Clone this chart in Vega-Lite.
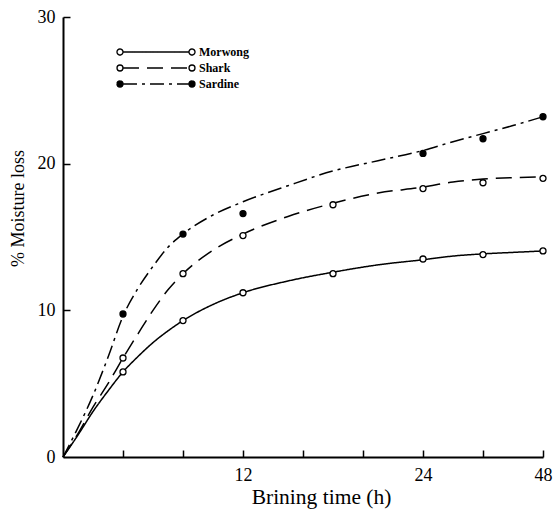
{
  "$schema": "https://vega.github.io/schema/vega-lite/v6.json",
  "width": 480,
  "height": 440,
  "autosize": "none",
  "padding": {"left": 63, "top": 17, "right": 14, "bottom": 58},
  "background": "white",
  "config": {
    "view": {"stroke": null},
    "font": "Liberation Serif",
    "axis": {
      "grid": false,
      "domainColor": "black",
      "domainWidth": 2,
      "tickColor": "black",
      "tickWidth": 1.5,
      "labelColor": "black",
      "labelFont": "Liberation Serif",
      "labelFontSize": 18,
      "titleColor": "black",
      "titleFont": "Liberation Serif",
      "titleFontWeight": "normal",
      "labelOverlap": false,
      "labelFlush": false
    }
  },
  "datasets": {
    "curves": [
      {"series": "Morwong", "h": 0, "v": 0},
      {"series": "Morwong", "h": 1, "v": 1.5},
      {"series": "Morwong", "h": 2, "v": 3.1},
      {"series": "Morwong", "h": 3, "v": 4.5},
      {"series": "Morwong", "h": 4, "v": 5.8},
      {"series": "Morwong", "h": 5, "v": 6.85},
      {"series": "Morwong", "h": 6, "v": 7.8},
      {"series": "Morwong", "h": 7, "v": 8.6},
      {"series": "Morwong", "h": 8, "v": 9.3},
      {"series": "Morwong", "h": 10, "v": 10.4},
      {"series": "Morwong", "h": 12, "v": 11.2},
      {"series": "Morwong", "h": 15, "v": 12.0},
      {"series": "Morwong", "h": 18, "v": 12.6},
      {"series": "Morwong", "h": 21, "v": 13.1},
      {"series": "Morwong", "h": 24, "v": 13.45},
      {"series": "Morwong", "h": 30, "v": 13.7},
      {"series": "Morwong", "h": 36, "v": 13.85},
      {"series": "Morwong", "h": 42, "v": 13.95},
      {"series": "Morwong", "h": 48, "v": 14.05},
      {"series": "Shark", "h": 0, "v": 0},
      {"series": "Shark", "h": 1, "v": 1.6},
      {"series": "Shark", "h": 2, "v": 3.4},
      {"series": "Shark", "h": 3, "v": 5.0},
      {"series": "Shark", "h": 4, "v": 6.75},
      {"series": "Shark", "h": 5, "v": 8.4},
      {"series": "Shark", "h": 6, "v": 10.0},
      {"series": "Shark", "h": 7, "v": 11.4},
      {"series": "Shark", "h": 8, "v": 12.5},
      {"series": "Shark", "h": 10, "v": 14.1},
      {"series": "Shark", "h": 12, "v": 15.2},
      {"series": "Shark", "h": 15, "v": 16.4},
      {"series": "Shark", "h": 18, "v": 17.3},
      {"series": "Shark", "h": 21, "v": 18.0},
      {"series": "Shark", "h": 24, "v": 18.4},
      {"series": "Shark", "h": 30, "v": 18.75},
      {"series": "Shark", "h": 36, "v": 18.95},
      {"series": "Shark", "h": 42, "v": 19.05},
      {"series": "Shark", "h": 48, "v": 19.1},
      {"series": "Sardine", "h": 0, "v": 0},
      {"series": "Sardine", "h": 1, "v": 2.0},
      {"series": "Sardine", "h": 2, "v": 4.2},
      {"series": "Sardine", "h": 3, "v": 6.8},
      {"series": "Sardine", "h": 4, "v": 9.6},
      {"series": "Sardine", "h": 5, "v": 11.5},
      {"series": "Sardine", "h": 6, "v": 13.0},
      {"series": "Sardine", "h": 7, "v": 14.3},
      {"series": "Sardine", "h": 8, "v": 15.2},
      {"series": "Sardine", "h": 10, "v": 16.5},
      {"series": "Sardine", "h": 12, "v": 17.4},
      {"series": "Sardine", "h": 15, "v": 18.5},
      {"series": "Sardine", "h": 18, "v": 19.5},
      {"series": "Sardine", "h": 21, "v": 20.2},
      {"series": "Sardine", "h": 24, "v": 20.9},
      {"series": "Sardine", "h": 30, "v": 21.5},
      {"series": "Sardine", "h": 36, "v": 22.05},
      {"series": "Sardine", "h": 42, "v": 22.6},
      {"series": "Sardine", "h": 48, "v": 23.2}
    ],
    "points": [
      {"series": "Morwong", "h": 4, "v": 5.8},
      {"series": "Morwong", "h": 8, "v": 9.3},
      {"series": "Morwong", "h": 12, "v": 11.2},
      {"series": "Morwong", "h": 18, "v": 12.5},
      {"series": "Morwong", "h": 24, "v": 13.5},
      {"series": "Morwong", "h": 36, "v": 13.8},
      {"series": "Morwong", "h": 48, "v": 14.05},
      {"series": "Shark", "h": 4, "v": 6.75},
      {"series": "Shark", "h": 8, "v": 12.5},
      {"series": "Shark", "h": 12, "v": 15.1},
      {"series": "Shark", "h": 18, "v": 17.2},
      {"series": "Shark", "h": 24, "v": 18.3},
      {"series": "Shark", "h": 36, "v": 18.7},
      {"series": "Shark", "h": 48, "v": 19.0},
      {"series": "Sardine", "h": 4, "v": 9.75},
      {"series": "Sardine", "h": 8, "v": 15.2},
      {"series": "Sardine", "h": 12, "v": 16.6},
      {"series": "Sardine", "h": 24, "v": 20.7},
      {"series": "Sardine", "h": 36, "v": 21.7},
      {"series": "Sardine", "h": 48, "v": 23.2}
    ]
  },
  "resolve": {"axis": {"x": "independent", "y": "independent"}},
  "layer": [
    {
      "data": {"name": "curves"},
      "mark": {"type": "line", "interpolate": "monotone", "color": "black", "strokeWidth": 1.5},
      "encoding": {
        "x": {
          "field": "h",
          "type": "quantitative",
          "scale": {"domain": [0, 24, 48], "range": [0, 360, 480], "nice": false, "zero": false},
          "axis": {
            "orient": "bottom",
            "values": [12, 24, 48],
            "ticks": false,
            "labelPadding": 9,
            "title": "Brining time (h)",
            "titleFontSize": 21.5,
            "titleX": 258,
            "titleY": 46,
            "titleBaseline": "alphabetic",
            "titleAlign": "center"
          }
        },
        "y": {
          "field": "v",
          "type": "quantitative",
          "scale": {"domain": [0, 30], "nice": false},
          "axis": {
            "orient": "left",
            "values": [0, 10, 20, 30],
            "ticks": false,
            "labelPadding": 8,
            "title": "% Moisture loss",
            "titleFontSize": 18,
            "titleX": -40,
            "titleY": 191,
            "titleBaseline": "alphabetic",
            "titleAlign": "center"
          }
        },
        "strokeDash": {
          "field": "series",
          "type": "nominal",
          "scale": {"domain": ["Morwong", "Shark", "Sardine"], "range": [[1, 0], [16, 8], [14, 5, 3, 5]]},
          "legend": {
            "title": null,
            "orient": "none",
            "legendX": 47,
            "legendY": 25,
            "padding": 0,
            "rowPadding": -4,
            "symbolType": "M-3.667,0L3.667,0M-3.667,0C-3.667,0.184 -3.816,0.333 -4,0.333C-4.184,0.333 -4.333,0.184 -4.333,0C-4.333,-0.184 -4.184,-0.333 -4,-0.333C-3.816,-0.333 -3.667,-0.184 -3.667,0C-3.667,0.184 -3.816,0.333 -4,0.333C-4.184,0.333 -4.333,0.184 -4.333,0C-4.333,-0.184 -4.184,-0.333 -4,-0.333C-3.816,-0.333 -3.667,-0.184 -3.667,0C-3.667,0.184 -3.816,0.333 -4,0.333C-4.184,0.333 -4.333,0.184 -4.333,0C-4.333,-0.184 -4.184,-0.333 -4,-0.333C-3.816,-0.333 -3.667,-0.184 -3.667,0M4.333,0C4.333,0.184 4.184,0.333 4,0.333C3.816,0.333 3.667,0.184 3.667,0C3.667,-0.184 3.816,-0.333 4,-0.333C4.184,-0.333 4.333,-0.184 4.333,0C4.333,0.184 4.184,0.333 4,0.333C3.816,0.333 3.667,0.184 3.667,0C3.667,-0.184 3.816,-0.333 4,-0.333C4.184,-0.333 4.333,-0.184 4.333,0C4.333,0.184 4.184,0.333 4,0.333C3.816,0.333 3.667,0.184 3.667,0C3.667,-0.184 3.816,-0.333 4,-0.333C4.184,-0.333 4.333,-0.184 4.333,0",
            "symbolSize": 324,
            "symbolOffset": 36,
            "symbolStrokeColor": "black",
            "symbolStrokeWidth": 1.3,
            "labelOffset": 33,
            "labelFont": "Liberation Serif",
            "labelFontSize": 12,
            "labelFontWeight": "bold",
            "labelColor": "black",
            "encode": {
              "symbols": {
                "update": {
                  "fill": {"signal": "datum.value === 'Sardine' ? 'black' : 'white'"},
                  "stroke": {"value": "black"}
                }
              }
            }
          }
        }
      }
    },
    {
      "data": {"name": "points"},
      "mark": {"type": "point", "shape": "circle", "size": 36, "stroke": "black", "strokeWidth": 1.3, "opacity": 1},
      "encoding": {
        "x": {
          "field": "h",
          "type": "quantitative",
          "scale": {"domain": [0, 24, 48], "range": [0, 360, 480], "nice": false, "zero": false},
          "axis": {
            "orient": "bottom",
            "offset": -7,
            "values": [4, 8, 12, 16, 20, 24, 36, 48],
            "domain": false,
            "labels": false,
            "ticks": true,
            "tickSize": 7,
            "title": null
          }
        },
        "y": {
          "field": "v",
          "type": "quantitative",
          "scale": {"domain": [0, 30], "nice": false},
          "axis": {
            "orient": "left",
            "offset": -7,
            "values": [10, 20, 30],
            "domain": false,
            "labels": false,
            "ticks": true,
            "tickSize": 7,
            "title": null
          }
        },
        "fill": {
          "field": "series",
          "type": "nominal",
          "scale": {"domain": ["Morwong", "Shark", "Sardine"], "range": ["white", "white", "black"]},
          "legend": null
        }
      }
    }
  ]
}
